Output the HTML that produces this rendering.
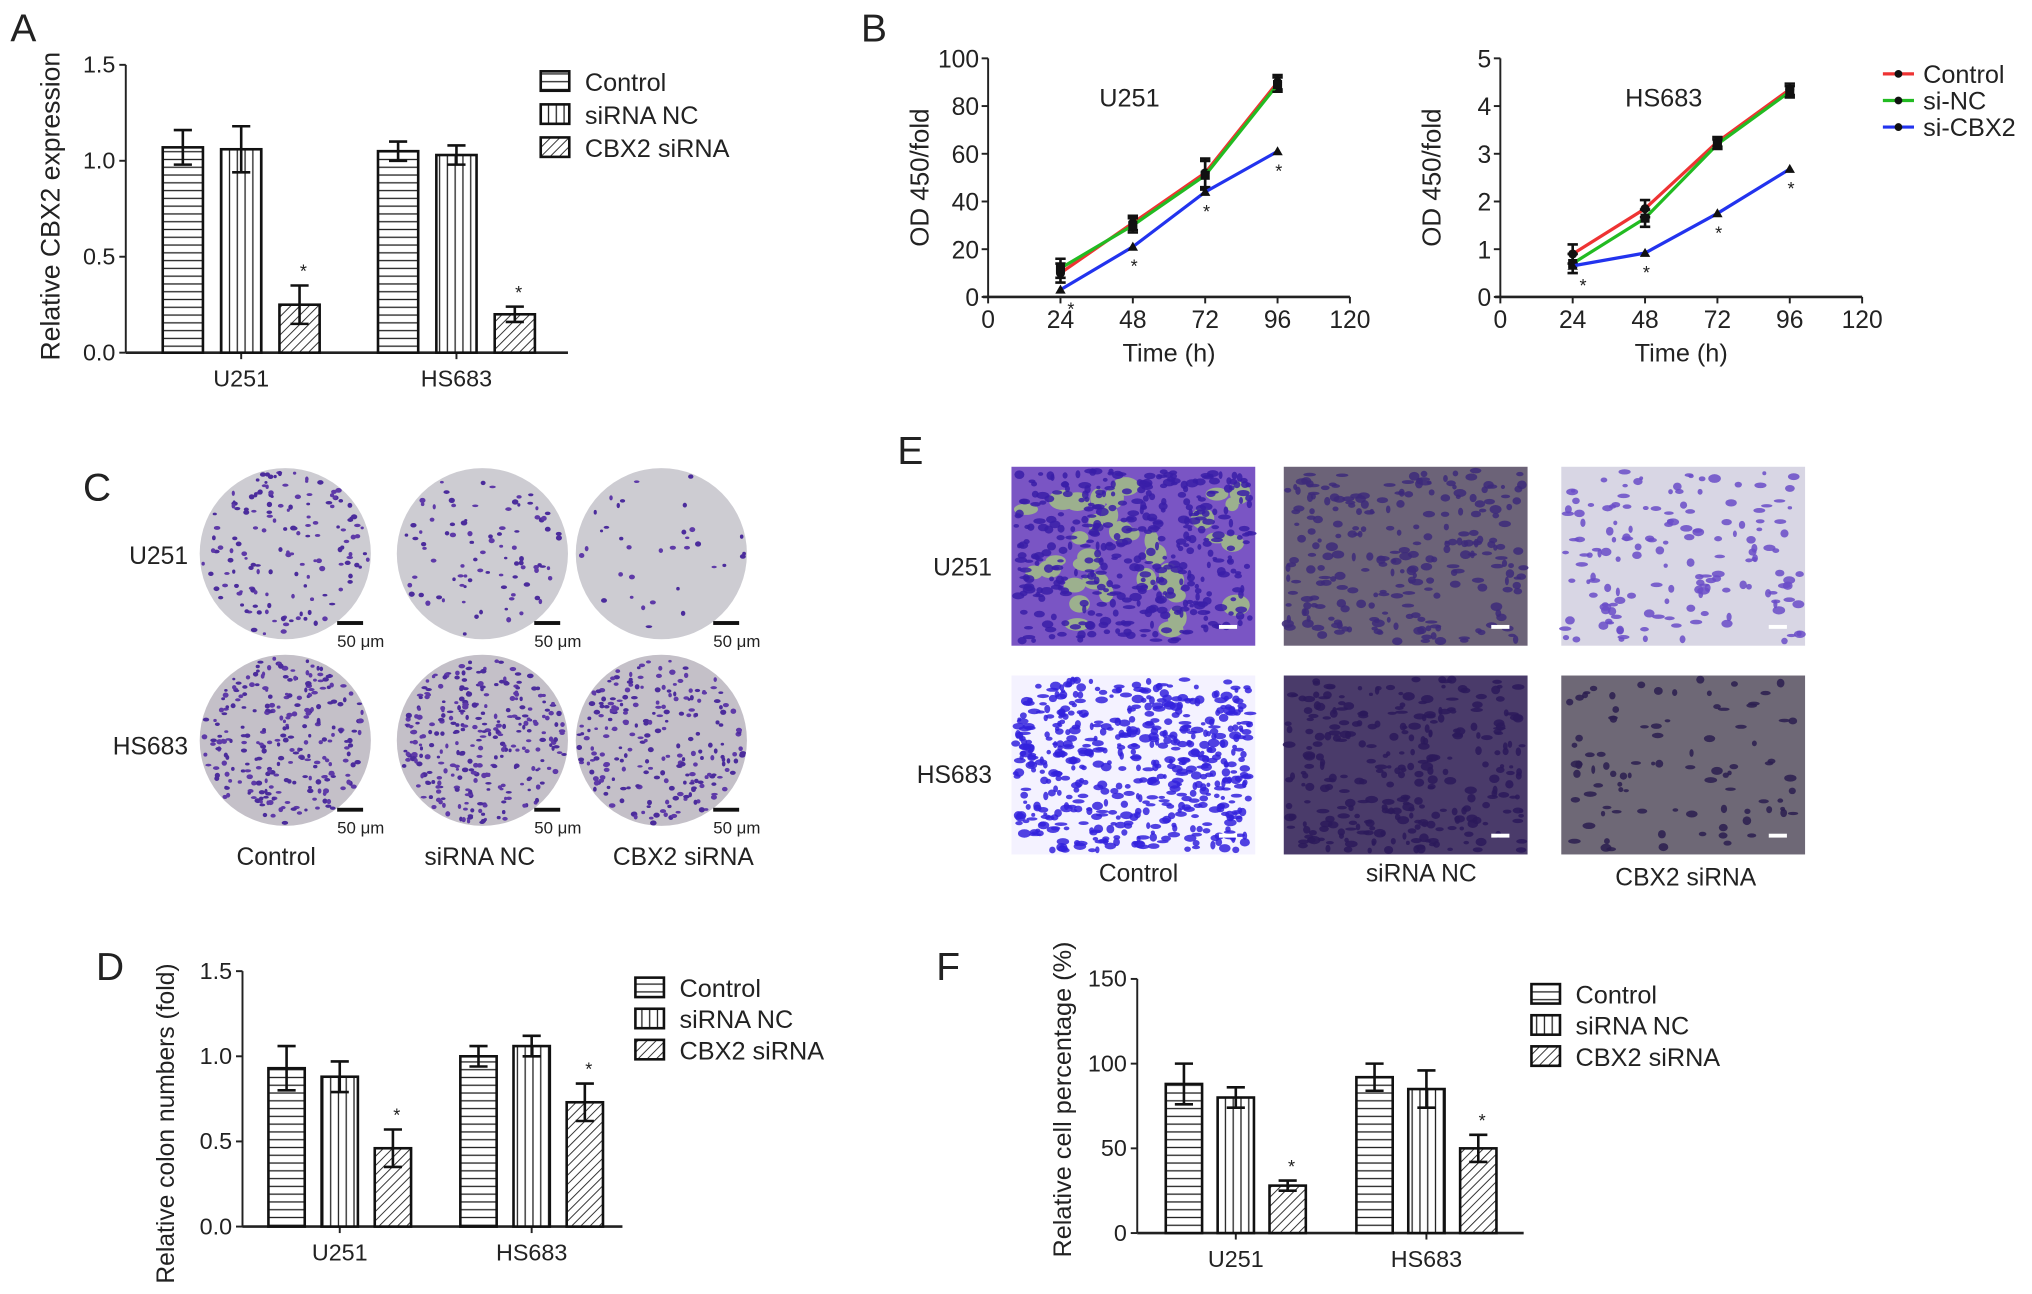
<!DOCTYPE html>
<html><head><meta charset="utf-8"><style>
html,body{margin:0;padding:0;background:#fff;}
svg{display:block;font-family:"Liberation Sans",Arial,sans-serif;}
</style></head><body>
<svg id="fig" width="2032" height="1294" viewBox="0 0 1567 998" preserveAspectRatio="none" xmlns="http://www.w3.org/2000/svg">
<defs>
<pattern id="pH" width="6" height="6" patternUnits="userSpaceOnUse"><rect width="6" height="6" fill="#fff"/><line x1="0" y1="3" x2="6" y2="3" stroke="#222" stroke-width="1"/></pattern>
<pattern id="pV" width="6" height="6" patternUnits="userSpaceOnUse"><rect width="6" height="6" fill="#fff"/><line x1="3" y1="0" x2="3" y2="6" stroke="#222" stroke-width="1"/></pattern>
<pattern id="pD" width="5" height="5" patternUnits="userSpaceOnUse" patternTransform="rotate(45)"><rect width="5" height="5" fill="#fff"/><line x1="0" y1="0" x2="0" y2="5" stroke="#222" stroke-width="1.4"/></pattern>
<clipPath id="circClip"><circle cx="0" cy="0" r="66"/></clipPath>
</defs>
<g id="root"></g>
</svg>
<script>
// ---- Panel A data ----
const aGroups = ["U251", "HS683"];
const aSeries = ["Control", "siRNA NC", "CBX2 siRNA"];
const aValues = [[1.07, 1.06, 0.25], [1.05, 1.03, 0.20]];
const aErrors = [[0.09, 0.12, 0.10], [0.05, 0.05, 0.04]];
const aTicks = [0, 0.5, 1.0, 1.5];
// ---- Panel D data ----
const dGroups = ["U251", "HS683"];
const dValues = [[0.93, 0.88, 0.46], [1.00, 1.06, 0.73]];
const dErrors = [[0.13, 0.09, 0.11], [0.06, 0.06, 0.11]];
const dTicks = [0, 0.5, 1.0, 1.5];
// ---- Panel F data ----
const fGroups = ["U251", "HS683"];
const fValues = [[88, 80, 28], [92, 85, 50]];
const fErrors = [[12, 6, 3], [8, 11, 8]];
const fTicks = [0, 50, 100, 150];
// ---- Panel B data ----
const bTimes = [24, 48, 72, 96];
const bXTicks = [0, 24, 48, 72, 96, 120];
const bSeries = ["Control", "si-NC", "si-CBX2"];
const bU251Control = [10, 31, 52, 90];
const bU251NC = [12, 30, 51, 89];
const bU251CBX2 = [3, 21, 44, 61];
const bU251Err = [4, 3, 6, 3];
const bU251Ticks = [0, 20, 40, 60, 80, 100];
const bHSControl = [0.9, 1.85, 3.25, 4.35];
const bHSNC = [0.7, 1.65, 3.2, 4.3];
const bHSCBX2 = [0.65, 0.92, 1.75, 2.68];
const bHSErr = [0.2, 0.18, 0.1, 0.12];
const bHSTicks = [0, 1, 2, 3, 4, 5];

const NS = "http://www.w3.org/2000/svg";
const root = document.getElementById("root");
function mk(tag, attrs, parent, text) {
  const e = document.createElementNS(NS, tag);
  for (const k in attrs) e.setAttribute(k, attrs[k]);
  if (text !== undefined) e.textContent = text;
  (parent || root).appendChild(e);
  return e;
}
function txt(x, y, s, size, anchor, parent, name) {
  const t = mk("text", {x: x, y: y, "font-size": size, "text-anchor": anchor || "start", fill: "#222"}, parent, s);
  
  
  return t;
}
const pats = ["url(#pH)", "url(#pV)", "url(#pD)"];

function barChart(o) {
  const g = mk("g", {});
  
  
  const ymax = o.ticks[o.ticks.length - 1];
  const y = v => o.y0 - (v / ymax) * (o.y0 - o.y1);
  mk("line", {x1: o.ax, y1: o.y1, x2: o.ax, y2: o.y0, stroke: "#222", "stroke-width": 1.5}, g);
  o.ticks.forEach(t => {
    mk("line", {x1: o.ax - 5, y1: y(t), x2: o.ax, y2: y(t), stroke: "#222", "stroke-width": 1.5}, g);
    txt(o.ax - 8, y(t) + 6, o.fmt(t), 18, "end", g, 'y-tick-label');
  });
  mk("line", {x1: o.ax, y1: o.y0, x2: o.axEnd, y2: o.y0, stroke: "#222", "stroke-width": 2}, g);
  const yt = txt(0, 0, o.ytitle, o.yts, "middle", g, 'y-axis-title');
  yt.setAttribute("transform", `translate(${o.ytx},${(o.y0 + o.y1) / 2 + o.ytdy}) rotate(-90)`);
  o.groups.forEach((gn, gi) => {
    const gx = o.gx[gi];
    mk("line", {x1: gx, y1: o.y0, x2: gx, y2: o.y0 + 5, stroke: "#222", "stroke-width": 1.5}, g);
    txt(gx, o.y0 + 26, gn, 18, "middle", g, 'x-tick-label');
    o.values[gi].forEach((v, si) => {
      const cx = gx + (si - 1) * o.step;
      const r = mk("rect", {x: cx - o.bw / 2, y: y(v), width: o.bw, height: o.y0 - y(v), fill: pats[si], stroke: "#111", "stroke-width": 2}, g);
      
      
      const e = o.errors[gi][si];
      mk("path", {d: `M${cx} ${y(v + e)}V${y(v - e)}M${cx - 7} ${y(v + e)}H${cx + 7}M${cx - 7} ${y(v - e)}H${cx + 7}`, stroke: "#111", "stroke-width": 2, fill: "none"}, g);
      if (si === 2) txt(cx + 3, y(v + e) - 6, "*", 14, "middle", g, 'significance-star');
    });
  });
  aSeries.forEach((s, i) => {
    const ly = o.ly + i * o.lstep;
    const r = mk("rect", {x: o.lx, y: ly - 8, width: 22, height: 15, fill: pats[i], stroke: "#111", "stroke-width": 2}, g);
    
    
    txt(o.lx + 34, ly + 7, s, 19.5, "start", g, 'legend-entry');
  });
}
const f1 = t => t.toFixed(1);
barChart({name: "panel-a-chart", groups: aGroups, values: aValues, errors: aErrors, ticks: aTicks, fmt: f1,
  ax: 97, axEnd: 438, y0: 272, y1: 50, gx: [186, 352], step: 45, bw: 31, ytitle: "Relative CBX2 expression", ytx: 46, ytdy: -2, yts: 20.5,
  lx: 417, ly: 63, lstep: 25.5});
barChart({name: "panel-d-chart", groups: dGroups, values: dValues, errors: dErrors, ticks: dTicks, fmt: f1,
  ax: 187, axEnd: 480, y0: 946, y1: 749, gx: [262, 410], step: 41, bw: 28, ytitle: "Relative colon numbers (fold)", ytx: 134, ytdy: 19, yts: 19,
  lx: 490, ly: 762, lstep: 24});
barChart({name: "panel-f-chart", groups: fGroups, values: fValues, errors: fErrors, ticks: fTicks, fmt: t => String(t),
  ax: 877, axEnd: 1175, y0: 951, y1: 755, gx: [953, 1100], step: 40, bw: 28, ytitle: "Relative cell percentage (%)", ytx: 826, ytdy: -5, yts: 19.5,
  lx: 1181, ly: 767, lstep: 24});

function lineChart(o) {
  const g = mk("g", {});
  
  
  const ymax = o.ticks[o.ticks.length - 1];
  const x = v => o.ax + v / 120 * (o.axEnd - o.ax);
  const y = v => o.y0 - v / ymax * (o.y0 - o.y1);
  mk("line", {x1: o.ax, y1: o.y1, x2: o.ax, y2: o.y0, stroke: "#222", "stroke-width": 1.5}, g);
  mk("line", {x1: o.ax - 4, y1: o.y0, x2: o.axEnd, y2: o.y0, stroke: "#222", "stroke-width": 2}, g);
  o.ticks.forEach(t => {
    mk("line", {x1: o.ax - 5, y1: y(t), x2: o.ax, y2: y(t), stroke: "#222", "stroke-width": 1.5}, g);
    txt(o.ax - 7, y(t) + 7, String(t), 19, "end", g, 'y-tick-label');
  });
  bXTicks.forEach(t => {
    mk("line", {x1: x(t), y1: o.y0, x2: x(t), y2: o.y0 + 5, stroke: "#222", "stroke-width": 1.5}, g);
    txt(x(t), o.y0 + 24, String(t), 19, "middle", g, 'x-tick-label');
  });
  txt((o.ax + o.axEnd) / 2, o.y0 + 50, "Time (h)", 19.5, "middle", g, 'x-axis-title');
  const yt = txt(0, 0, "OD 450/fold", 20, "middle", g, 'y-axis-title');
  yt.setAttribute("transform", `translate(${o.ax - 46},${(o.y0 + o.y1) / 2}) rotate(-90)`);
  txt(o.titleX, 82, o.title, 19.5, "middle", g, 'chart-title');
  const cols = ["#ee3333", "#22bb22", "#2233ee"];
  [o.s0, o.s1, o.s2].forEach((arr, si) => {
    const pts = bTimes.map((t, i) => `${x(t)},${y(arr[i])}`).join(" ");
    const pl = mk("polyline", {points: pts, fill: "none", stroke: cols[si], "stroke-width": 2.5}, g);
    
    
    bTimes.forEach((t, i) => {
      const cx = x(t), cy = y(arr[i]), e = o.err[i];
      if (si < 2) mk("path", {d: `M${cx} ${y(arr[i] + e)}V${y(arr[i] - e)}M${cx - 4} ${y(arr[i] + e)}H${cx + 4}M${cx - 4} ${y(arr[i] - e)}H${cx + 4}`, stroke: "#111", "stroke-width": 2, fill: "none"}, g);
      if (si === 0) mk("circle", {cx: cx, cy: cy, r: 3.5, fill: "#111"}, g);
      else if (si === 1) mk("rect", {x: cx - 3.5, y: cy - 3.5, width: 7, height: 7, fill: "#111"}, g);
      else {
        mk("path", {d: `M${cx - 4} ${cy + 3}L${cx} ${cy - 4}L${cx + 4} ${cy + 3}Z`, fill: "#111"}, g);
        txt(cx + (i === 0 ? 8 : 1), cy + 20, "*", 14, "middle", g, 'significance-star');
      }
    });
  });
}
lineChart({name: "panel-b-u251-chart", ax: 762, axEnd: 1041, y0: 229, y1: 45, ticks: bU251Ticks, title: "U251", titleX: 871,
  s0: bU251Control, s1: bU251NC, s2: bU251CBX2, err: bU251Err});
lineChart({name: "panel-b-hs683-chart", ax: 1157, axEnd: 1436, y0: 229, y1: 45, ticks: bHSTicks, title: "HS683", titleX: 1283,
  s0: bHSControl, s1: bHSNC, s2: bHSCBX2, err: bHSErr});
const blc = ["#ee3333", "#22bb22", "#2233ee"];
bSeries.forEach((s, i) => {
  const ly = 57 + i * 20.5;
  mk("line", {x1: 1452, y1: ly, x2: 1476, y2: ly, stroke: blc[i], "stroke-width": 2.5});
  mk("circle", {cx: 1464, cy: ly, r: 3, fill: "#111"});
  txt(1483, ly + 7, s, 19.5, "start", null, 'legend-entry');
});

[["A", 8, 32], ["B", 664, 32], ["C", 64, 386], ["E", 692, 358], ["D", 74, 756], ["F", 722, 756]].forEach(p => {
  txt(p[1], p[2], p[0], 30, "start", null, 'panel-label-' + p[0].toLowerCase());
});

let seed = 7;
function rnd() { seed = (seed * 16807) % 2147483647; return seed / 2147483647; }
const cCenters = [220, 372, 510];
const cRows = [427, 571];
const cDensity = [[150, 90, 35], [260, 300, 230]];
cRows.forEach((cy, ri) => cCenters.forEach((cx, ci) => {
  const g = mk("g", {transform: `translate(${cx},${cy})`});
  
  
  mk("circle", {cx: 0, cy: 0, r: 66, fill: ri ? "#c4c0c8" : "#cdccd2"}, g);
  const inner = mk("g", {"clip-path": "url(#circClip)"}, g);
  for (let k = 0; k < cDensity[ri][ci]; k++) {
    const a = rnd() * 6.283, r = Math.sqrt(rnd()) * 64;
    mk("ellipse", {cx: Math.cos(a) * r, cy: Math.sin(a) * r, rx: 1.2 + rnd() * 1.4, ry: 1 + rnd() * 1.1, fill: rnd() > 0.5 ? "#4b2c9c" : "#5e3aa8"}, inner);
  }
  mk("rect", {x: 40, y: 52, width: 20, height: 3, fill: "#111"}, g);
  txt(40, 72, "50 μm", 13, "start", g, 'scale-bar-label');
}));
txt(145, 435, "U251", 19, "end", null, 'row-label');
txt(145, 582, "HS683", 19, "end", null, 'row-label');
txt(213, 667, "Control", 19, "middle", null, 'column-label');
txt(370, 667, "siRNA NC", 19, "middle", null, 'column-label');
txt(527, 667, "CBX2 siRNA", 19, "middle", null, 'column-label');

const eX = [780, 990, 1204];
const eY = [360, 521];
const eBg = [["#7a55c4", "#6c6378", "#d8d6e4"], ["#f4f2ff", "#4a3b6a", "#6e6876"]];
const eCell = [["#3a1fa8", "#3d2a7a", "#6a4cc8"], ["#3322dd", "#2b1a5a", "#2c1f50"]];
const eCount = [[420, 250, 160], [560, 300, 90]];
eY.forEach((y0, ri) => eX.forEach((x0, ci) => {
  const g = mk("g", {});
  
  
  mk("rect", {x: x0, y: y0, width: 188, height: 138, fill: eBg[ri][ci]}, g);
  if (ri === 0 && ci === 0) for (let k = 0; k < 40; k++) mk("ellipse", {cx: x0 + 10 + rnd() * 168, cy: y0 + 8 + rnd() * 122, rx: 5 + rnd() * 6, ry: 4 + rnd() * 5, fill: "#9cb08e"}, g);
  for (let k = 0; k < eCount[ri][ci]; k++) {
    mk("ellipse", {cx: x0 + 3 + rnd() * 182, cy: y0 + 3 + rnd() * 132, rx: 1.5 + rnd() * 3.5, ry: 1.2 + rnd() * 2.2, fill: eCell[ri][ci], opacity: 0.85}, g);
  }
  mk("rect", {x: x0 + 160, y: y0 + 122, width: 14, height: 3, fill: "#fff"}, g);
}));
txt(765, 444, "U251", 19, "end", null, 'row-label');
txt(765, 604, "HS683", 19, "end", null, 'row-label');
txt(878, 680, "Control", 19, "middle", null, 'column-label');
txt(1096, 680, "siRNA NC", 19, "middle", null, 'column-label');
txt(1300, 683, "CBX2 siRNA", 19, "middle", null, 'column-label');
</script>
</body></html>
